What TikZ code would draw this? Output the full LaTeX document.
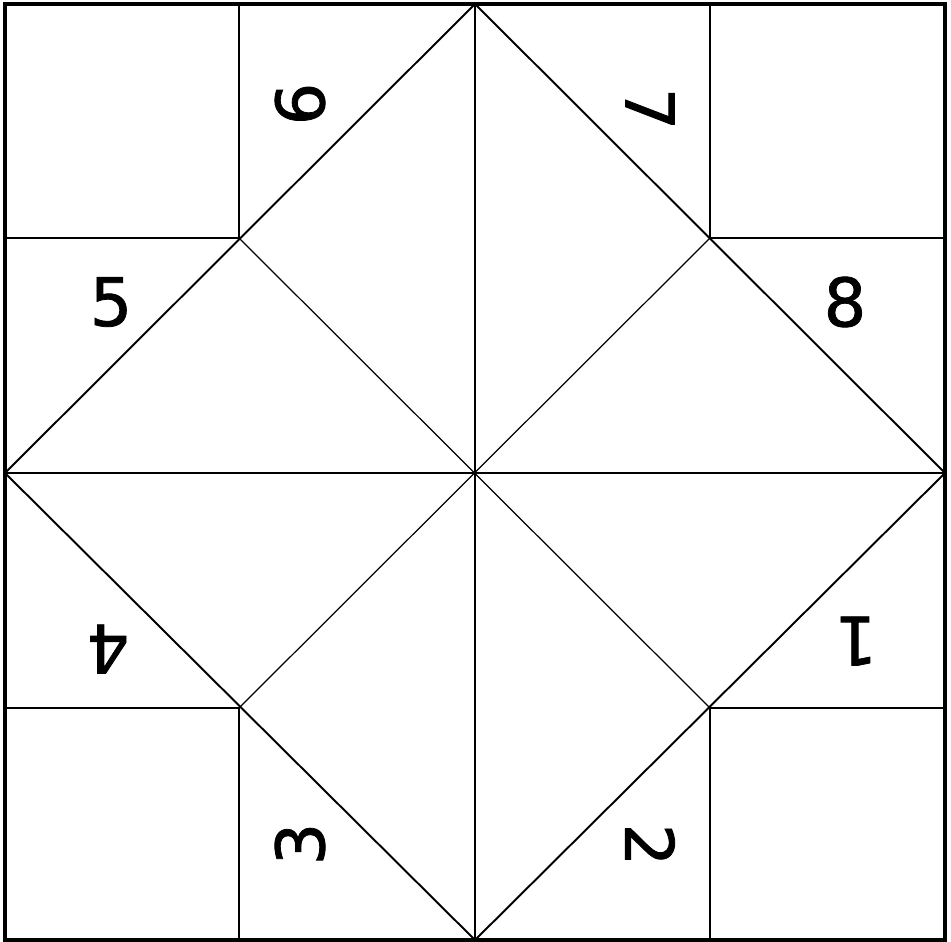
\documentclass[tikz,border=0pt]{standalone}
\usepackage{fontspec}
\setmainfont{DejaVu Sans}
\newfontfamily\digitfont[FakeBold=1.2]{DejaVu Sans}
\usepackage{tikz}

\begin{document}
\begin{tikzpicture}[x=0.01cm,y=-0.01cm]
	\useasboundingbox (0,0) rectangle (951,942);
	% corners and fold points
	\coordinate (TL) at (5,4);
	\coordinate (TR) at (945,4);
	\coordinate (BR) at (945,940);
	\coordinate (BL) at (5,940);
	\coordinate (N) at (475,4);
	\coordinate (E) at (945,473);
	\coordinate (S) at (475,940);
	\coordinate (W) at (5,473);
	\coordinate (O) at (475,473);
	\coordinate (a) at (239,238);
	\coordinate (b) at (710,238);
	\coordinate (c) at (710,708);
	\coordinate (d) at (239,708);
	% fold lines
	\draw [line width=0.4pt] (N) -- (S);
	\draw [line width=0.4pt] (W) -- (E);
	\draw [line width=0.35pt] (a) -- (c);
	\draw [line width=0.35pt] (b) -- (d);
	\draw [line width=0.55pt] (N) -- (E) -- (S) -- (W) -- cycle;
	% corner squares
	\draw [line width=0.55pt] (a |- N) -- (a) -- (a -| W);
	\draw [line width=0.55pt] (b |- N) -- (b) -- (b -| E);
	\draw [line width=0.55pt] (c |- S) -- (c) -- (c -| E);
	\draw [line width=0.55pt] (d |- S) -- (d) -- (d -| W);
	\draw [line width=1pt] (TL) rectangle (BR);
	% numbers
	\begin{scope}[every node/.style={font=\digitfont\fontsize{19}{19}\selectfont,inner sep=0pt}]
	\node[rotate=180] (n1) at (856,641) {1};
	\node[rotate=-90] (n2) at (650,845) {2};
	\node[rotate=90] (n3) at (300,844) {3};
	\node[rotate=180] (n4) at (108,649) {4};
	\node (n5) at (111,302) {5};
	\node (n8) at (845,302) {8};
	\node[rotate=90] (n6) at (300,104) {6};
	\node[rotate=-90] (n7) at (650,109) {7};
	\end{scope}
\end{tikzpicture}
\end{document}
